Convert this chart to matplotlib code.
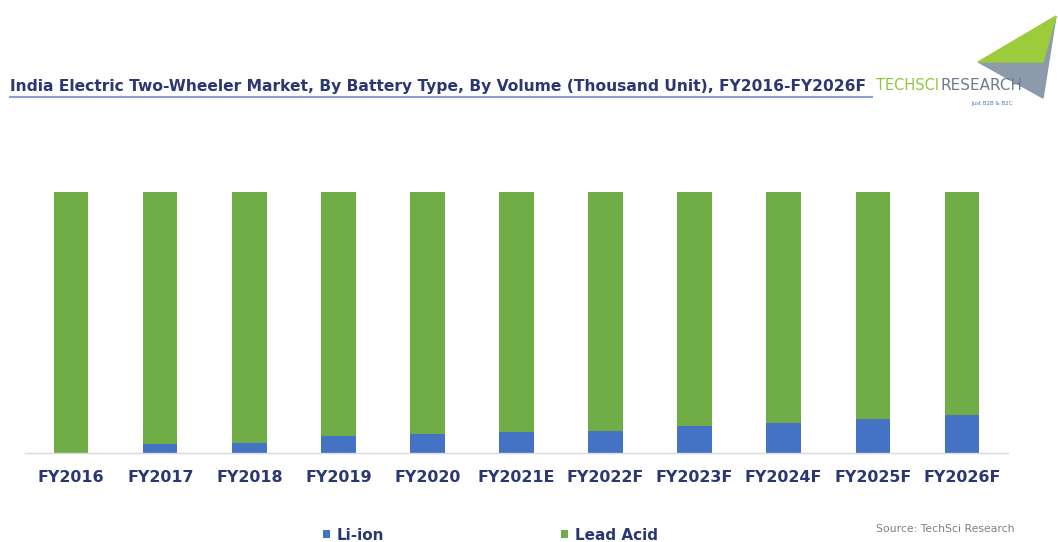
import matplotlib.pyplot as plt
from matplotlib.patches import Polygon

categories = ["FY2016", "FY2017", "FY2018", "FY2019", "FY2020", "FY2021E",
              "FY2022F", "FY2023F", "FY2024F", "FY2025F", "FY2026F"]
li_ion = [0.0, 3.4, 3.9, 6.5, 7.2, 8.0, 8.5, 10.3, 11.6, 13.0, 14.7]
lead_acid = [100 - v for v in li_ion]
series_names = ["Li-ion", "Lead Acid"]
title = "India Electric Two-Wheeler Market, By Battery Type, By Volume (Thousand Unit), FY2016-FY2026F"
source = "Source: TechSci Research"

BLUE = "#4472C4"
GREEN = "#70AD47"
NAVY = "#2B3773"
FONT = "DejaVu Sans"

W, H = 1058, 542
fig = plt.figure(figsize=(W / 100, H / 100), dpi=100)
fig.patch.set_facecolor("white")

ax = fig.add_axes([25 / W, 1 - 453 / H, (1008 - 25) / W, 261 / H])
x = list(range(len(categories)))
b1 = ax.bar(x, li_ion, width=0.385, color=BLUE, label=series_names[0])
b2 = ax.bar(x, lead_acid, bottom=li_ion, width=0.385, color=GREEN, label=series_names[1])
ax.set_ylim(0, 100)
ax.set_xlim(-0.52, 10.52)
for s in ["top", "right", "left"]:
    ax.spines[s].set_visible(False)
ax.spines["bottom"].set_color("#D9D9D9")
ax.spines["bottom"].set_linewidth(1.0)
ax.set_yticks([])
ax.set_xticks(x)
ax.set_xticklabels(categories, fontsize=11.4, fontweight="bold", color=NAVY, family=FONT)
ax.tick_params(axis="x", length=0, pad=12)

# Title
fig.text(10 / W, 1 - 86 / H, title, fontsize=11.2, fontweight="bold", color=NAVY,
         family=FONT, va="center", ha="left")
fig.add_artist(plt.Line2D([10 / W, 872 / W], [1 - 97 / H, 1 - 97 / H], color="#8EA0D8", lw=1.5))

# Logo
green_tri = Polygon([(1056 / W, 1 - 16 / H), (978 / W, 1 - 62 / H), (1043 / W, 1 - 62 / H)],
                    closed=True, transform=fig.transFigure, color="#9CCB3B")
gray_tri = Polygon([(978 / W, 1 - 62 / H), (1043 / W, 1 - 62 / H), (1056 / W, 1 - 16 / H), (1043 / W, 1 - 98 / H)],
                   closed=True, transform=fig.transFigure, color="#8C9AAA")
fig.add_artist(gray_tri)
fig.add_artist(green_tri)
fig.text(876 / W, 1 - 86 / H, "TECHSCI", fontsize=10.5, color="#8DC63F", va="center", ha="left", family=FONT)
fig.text(940 / W, 1 - 86 / H, "RESEARCH", fontsize=11, color="#6D7B8A", va="center", ha="left", family=FONT)
fig.text(992 / W, 1 - 103 / H, "Just B2B & B2C", fontsize=4, color="#4A79B8", va="center", ha="center")

# Legend
legprops = {"family": FONT, "weight": "bold", "size": 11}
leg1 = fig.legend(handles=[b1], labels=[series_names[0]], loc="center left",
                  bbox_to_anchor=(323 / W, 1 - 535 / H), frameon=False, borderpad=0, borderaxespad=0,
                  handlelength=0.45, handleheight=0.45, handletextpad=0.45, prop=legprops)
leg2 = fig.legend(handles=[b2], labels=[series_names[1]], loc="center left",
                  bbox_to_anchor=(561 / W, 1 - 535 / H), frameon=False, borderpad=0, borderaxespad=0,
                  handlelength=0.45, handleheight=0.45, handletextpad=0.45, prop=legprops)
for leg in (leg1, leg2):
    for txt in leg.get_texts():
        txt.set_color(NAVY)

fig.text(945 / W, 1 - 529 / H, source, fontsize=7.8, color="#808080", va="center", ha="center")

fig.savefig("out.png", dpi=100, facecolor="white")
